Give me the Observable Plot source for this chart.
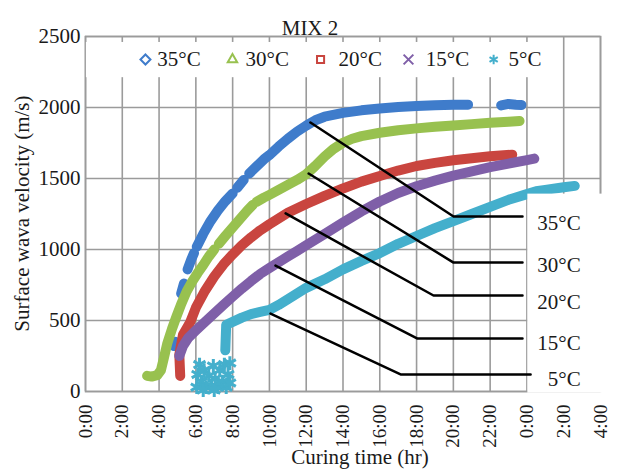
<!DOCTYPE html>
<html><head><meta charset="utf-8">
<script src="https://cdn.jsdelivr.net/npm/d3@7"></script>
<script src="https://cdn.jsdelivr.net/npm/@observablehq/plot@0.6"></script>
<style>html,body{margin:0;padding:0;background:#fff}</style>
</head><body><div id="chart"></div>
<script>
// ---- data (hours since casting, surface wave velocity m/s); null = gap in the recording
const seriesNames = ["35°C", "30°C", "20°C", "15°C", "5°C"];
const seriesColors = ["#3f7ccb", "#98c14f", "#c9453f", "#7f5fa8", "#44afcc"];
const seriesSymbols = ["diamond2", "triangle2", "square2", "times", "asterisk"];

const xTicks = [0, 2, 4, 6, 8, 10, 12, 14, 16, 18, 20, 22, 24, 26, 28];
const xTickLabels = ["0:00", "2:00", "4:00", "6:00", "8:00", "10:00", "12:00", "14:00", "16:00", "18:00", "20:00", "22:00", "0:00", "2:00", "4:00"];
const yTicks = [0, 500, 1000, 1500, 2000, 2500];

const curve35 = [[4.80,320],[4.88,350],null,[5.20,690],[5.35,760],null,[5.55,860],[5.75,930],[5.90,975],null,
  [6.05,1020],[6.4,1110],[6.8,1200],[7.2,1275],[7.6,1340],[8.0,1395],null,[8.25,1435],[8.6,1490],null,
  [8.9,1535],[9.3,1585],[9.7,1635],[10.0,1665],[10.5,1725],[11.0,1780],[11.5,1830],[12.0,1872],[12.5,1910],
  [13.0,1935],[14.0,1962],[15.0,1980],[16.0,1993],[17.0,2003],[18.0,2010],[19.0,2016],[20.0,2020],[20.8,2020],null,
  [22.6,2015],[23.0,2025],[23.4,2020],[23.7,2018]];
const curve30 = [[3.35,110],[3.6,105],[3.9,115],[4.1,150],[4.25,230],[4.45,340],[4.7,440],[4.95,530],[5.2,615],
  [5.5,705],[5.8,775],[6.1,835],[6.4,890],[6.7,950],[7.0,1000],null,[7.25,1040],[7.6,1095],[8.0,1155],[8.4,1215],
  [8.8,1275],[9.1,1315],null,[9.3,1335],[9.7,1365],[10.0,1385],[10.5,1420],[11.0,1455],[11.5,1490],[12.0,1530],
  [12.5,1590],[13.0,1655],[13.5,1710],[14.0,1752],[14.5,1780],[15.0,1798],[16.0,1822],[17.0,1840],[18.0,1853],
  [19.0,1864],[20.0,1874],[21.0,1883],[22.0,1892],[23.0,1900],[23.6,1905]];
const curve20 = [[5.15,110],[5.1,260],[5.3,400],[5.7,490],[6.0,590],[6.5,710],[7.0,810],[7.5,895],[8.0,965],
  [8.5,1030],[9.0,1085],[9.5,1135],[10.0,1178],[10.5,1218],[11.0,1258],[12.0,1320],[13.0,1378],[14.0,1430],
  [15.0,1478],[16.0,1518],[17.0,1556],[18.0,1588],[19.0,1610],[20.0,1628],[21.0,1643],[22.0,1656],[23.2,1668]];
const curve15 = [[5.1,250],[5.3,320],[5.6,380],[6.0,430],[6.5,490],[7.0,550],[7.5,610],[8.0,668],[8.5,725],
  [9.0,778],[9.5,828],[10.0,870],[10.5,910],[11.0,950],[11.5,990],[12.0,1030],[13.0,1110],[14.0,1190],
  [15.0,1268],[16.0,1338],[17.0,1398],[18.0,1445],[19.0,1485],[20.0,1520],[21.0,1550],[22.0,1580],
  [23.0,1605],[24.0,1630],[24.4,1640]];
const curve5 = [[7.6,290],[7.65,470],[8.0,490],[8.5,520],[9.0,545],[9.5,560],[10.0,575],[10.5,610],[11.0,650],
  [11.5,690],[12.0,730],[13.0,790],[14.0,860],[15.0,920],[16.0,975],[17.0,1040],[18.0,1095],[19.0,1150],
  [20.0,1200],[21.0,1250],[22.0,1300],[23.0,1350],[24.0,1390],[24.5,1410],[25.0,1420],[26.0,1438],[26.6,1448]];
const scatter5 = [[6.05,30],[6.1,120],[6.2,190],[6.3,70],[6.45,150],[6.55,30],[6.7,110],[6.85,40],[6.95,180],
  [7.05,90],[7.2,30],[7.3,150],[7.45,70],[7.55,190],[7.65,30],[7.75,120],[7.85,60],[7.85,200],[6.4,10],[7.0,10]];

// ---- annotations (leader lines to the temperature labels)
const leaderLabels = ["35°C", "30°C", "20°C", "15°C", "5°C"];
const leaderStart = [[12.23,1894],[12.13,1535],[10.88,1254],[10.33,887],[10.06,549]];
const leaderCorner = [[20.01,1232],[20.01,908],[18.92,676],[18.05,373],[17.13,120]];
const leaderEndHour = [23.76, 23.76, 23.76, 23.76, 24.2];
const labelValue = [1183, 887, 627, 338, 84];

const curves = [curve35, curve30, curve20, curve15, curve5];
const rows = [];
curves.forEach((c, i) => c.forEach(p => rows.push(p ? {series: seriesNames[i], h: p[0], v: p[1]} : {series: seriesNames[i], h: NaN, v: NaN})));
const scatterRows = scatter5.map(p => ({h: p[0], v: p[1]}));
const leaderRows = [];
leaderLabels.forEach((l, i) => {
  leaderRows.push({label: l, h: leaderStart[i][0], v: leaderStart[i][1]});
  leaderRows.push({label: l, h: leaderCorner[i][0], v: leaderCorner[i][1]});
  leaderRows.push({label: l, h: leaderEndHour[i], v: leaderCorner[i][1]});
});
const labelRows = leaderLabels.map((l, i) => ({label: l, v: labelValue[i]}));

const legendSymbolH = [3.26, 7.99, 12.78, 17.56, 22.19];
const legendTextH = [3.9, 8.7, 13.76, 18.5, 23.0];
const legendRows = seriesNames.map((s, i) => ({s, sym: seriesSymbols[i], c: seriesColors[i], hs: legendSymbolH[i], ht: legendTextH[i]}));

const grid = "#9b9b9b";
const font = "'Liberation Serif', 'Times New Roman', serif";

const chart = Plot.plot({
  width: 623, height: 473,
  marginLeft: 85, marginRight: 23, marginTop: 36, marginBottom: 82,
  x: {domain: [0, 28]},
  y: {domain: [0, 2500]},
  color: {domain: seriesNames, range: seriesColors},
  symbol: {domain: seriesSymbols, range: seriesSymbols},
  style: {fontFamily: font, fontSize: "21px", color: "#1a1a1a", background: "#fff", overflow: "visible"},
  marks: [
    Plot.gridX(xTicks, {stroke: grid, strokeOpacity: 1, strokeWidth: 1.6}),
    Plot.gridY(yTicks, {stroke: grid, strokeOpacity: 1, strokeWidth: 1.6}),
    Plot.frame({stroke: grid, strokeWidth: 1.6}),
    Plot.dot(scatterRows, {x: "h", y: "v", symbol: "asterisk", stroke: seriesColors[4], r: 6.5, strokeWidth: 3}),
    Plot.line(rows, {x: "h", y: "v", z: "series", stroke: "series", strokeWidth: 10, strokeLinecap: "round", strokeLinejoin: "round", curve: "linear"}),
    // legend box and the label box hide the grid beneath them
    Plot.rect([{x1: 0.05, x2: 25.3, y1: 2210, y2: 2458}], {x1: "x1", x2: "x2", y1: "y1", y2: "y2", fill: "white"}),
    Plot.rect([{x1: 24.05, x2: 29.5, y1: -12, y2: 1390}], {x1: "x1", x2: "x2", y1: "y1", y2: "y2", fill: "white"}),
    Plot.line(leaderRows, {x: "h", y: "v", z: "label", stroke: "#000", strokeWidth: 2.5}),
    Plot.text(labelRows, {x: 26.92, y: "v", text: "label", textAnchor: "end", fontSize: 21, fill: "#1a1a1a"}),
    Plot.dot(legendRows, {x: "hs", y: 2338, symbol: "sym", stroke: "c", r: 4.5, strokeWidth: 2}),
    Plot.text(legendRows, {x: "ht", y: 2338, text: "s", textAnchor: "start", fontSize: 21, fill: "#1a1a1a"}),
    Plot.axisX(xTicks, {tickFormat: (d, i) => xTickLabels[i], tickRotate: -90, tickSize: 0, tickPadding: 13, fontSize: 19, label: null}),
    Plot.axisY(yTicks, {tickFormat: d => String(d), tickSize: 0, tickPadding: 5, fontSize: 21, label: null}),
    Plot.text(["MIX 2"], {frameAnchor: "top", dx: -33, dy: -16, fontSize: 21}),
    Plot.text(["Curing time (hr)"], {frameAnchor: "bottom", dx: 17, dy: 72, fontSize: 21}),
    Plot.text(["Surface wava velocity (m/s)"], {x: -3.43, y: 1253, rotate: -90, fontSize: 21, clip: false})
  ]
});
document.getElementById("chart").appendChild(chart);
</script>
</body></html>
